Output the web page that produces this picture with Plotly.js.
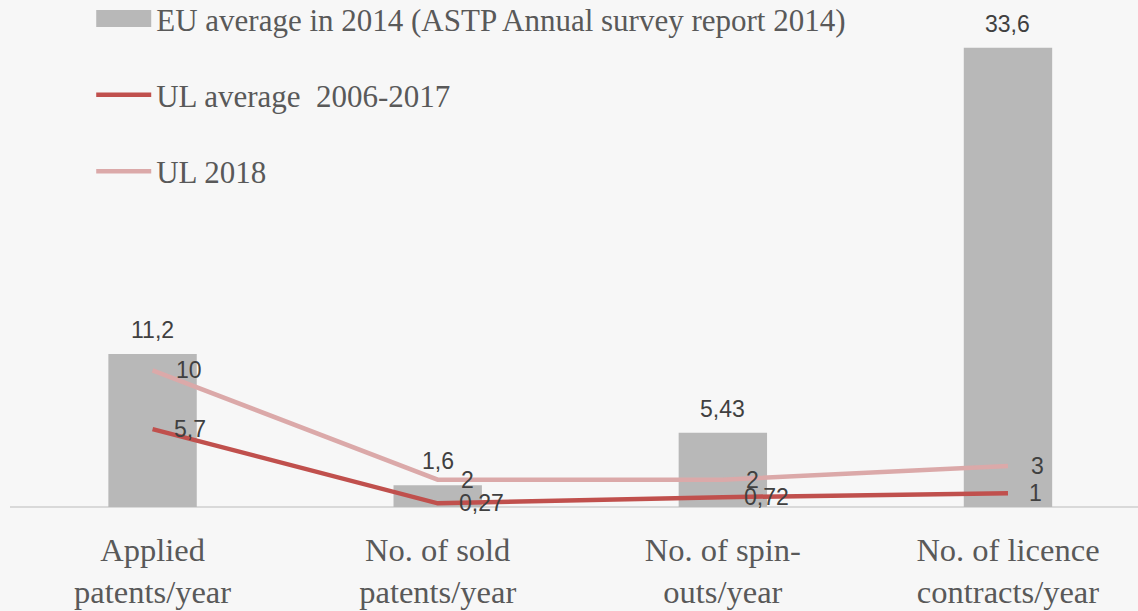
<!DOCTYPE html>
<html>
<head>
<meta charset="utf-8">
<script src="https://cdn.plot.ly/plotly-3.0.1.min.js"></script>
<style>html,body{margin:0;padding:0;background:#f7f7f7;}#chart{width:1138px;height:611px;}</style>
</head>
<body>
<div id="chart"></div>
<script>
const categories = ["Applied<br>patents/year", "No. of sold<br>patents/year", "No. of spin-<br>outs/year", "No. of licence<br>contracts/year"];
const euAverage2014 = [11.2, 1.6, 5.43, 33.6];
const ulAverage = [5.7, 0.27, 0.72, 1];
const ul2018 = [10, 2, 2, 3];
const seriesNames = ["EU average in 2014 (ASTP Annual survey report 2014)", "UL average  2006-2017", "UL 2018"];

const idx = categories.map((c, i) => i);
const fmt = v => String(v).replace('.', ',');
const serif = "'Liberation Serif', 'Times New Roman', serif";
const labelFont = {family: "'Liberation Sans', Arial, sans-serif", size: 23, color: "#404040"};

const traces = [
  {type: 'bar', x: idx, y: euAverage2014, name: seriesNames[0], width: 0.31,
   marker: {color: '#b8b8b8'}, legendgroup: 'a', hoverinfo: 'y'},
  {type: 'scatter', mode: 'lines', x: idx, y: ulAverage, name: seriesNames[1],
   line: {color: '#c0504d', width: 4.5}, legendgroup: 'b'},
  {type: 'scatter', mode: 'lines', x: idx, y: ul2018, name: seriesNames[2],
   line: {color: '#dba9a9', width: 4.5}, legendgroup: 'c'}
];

const annotations = [];
euAverage2014.forEach((v, i) => annotations.push({x: i, y: v, xref: 'x', yref: 'y', text: fmt(v),
  showarrow: false, yanchor: 'bottom', yshift: 9, font: labelFont}));
ul2018.forEach((v, i) => annotations.push({x: i, y: v, xref: 'x', yref: 'y', text: fmt(v),
  showarrow: false, xanchor: 'left', xshift: 21, font: labelFont}));
ulAverage.forEach((v, i) => annotations.push({x: i, y: v, xref: 'x', yref: 'y', text: fmt(v),
  showarrow: false, xanchor: 'left', xshift: 19, font: labelFont}));

const layout = {
  width: 1138, height: 611,
  paper_bgcolor: '#f7f7f7', plot_bgcolor: '#f7f7f7',
  margin: {l: 10, r: 0, t: 0, b: 104, autoexpand: false},
  showlegend: true,
  legend: {x: 0.072, y: 1.016, xanchor: 'left', yanchor: 'top', traceorder: 'grouped', tracegroupgap: 33,
    itemwidth: 55, bgcolor: 'rgba(0,0,0,0)',
    font: {family: serif, size: 31, color: '#595959'}},
  xaxis: {range: [-0.5, 3.456], tickvals: idx, ticktext: categories, showgrid: false, zeroline: false,
    showline: false, ticks: '', fixedrange: true, ticklabelstandoff: 20, automargin: false,
    tickfont: {family: serif, size: 32.5, color: '#595959'}},
  yaxis: {range: [0, 37.1], showgrid: false, zeroline: true, zerolinecolor: '#d9d9d9', zerolinewidth: 2,
    showticklabels: false, ticks: '', fixedrange: true, automargin: false},
  annotations: annotations
};

Plotly.newPlot('chart', traces, layout, {displayModeBar: false, staticPlot: true}).then(gd => {
  // widen the bar legend swatch to a rectangle like the reference
  const items = gd.querySelectorAll('.legend .traces');
  if (items.length < 2) return;
  const lp = items[1].querySelector('.legendlines path');
  const bp = items[0].querySelector('.legendpoints path');
  if (!lp || !bp) return;
  const m = /M([-\d.]+),([-\d.]+)h([-\d.]+)/.exec(lp.getAttribute('d') || '');
  if (!m) return;
  const x0 = parseFloat(m[1]), w = parseFloat(m[3]);
  const dx = lp.getScreenCTM().e - bp.getScreenCTM().e;
  const xs = x0 + dx;
  bp.setAttribute('d', `M${xs},-8.5h${w}v17h${-w}Z`);
  bp.style.strokeWidth = '0px';
});
</script>
</body>
</html>
